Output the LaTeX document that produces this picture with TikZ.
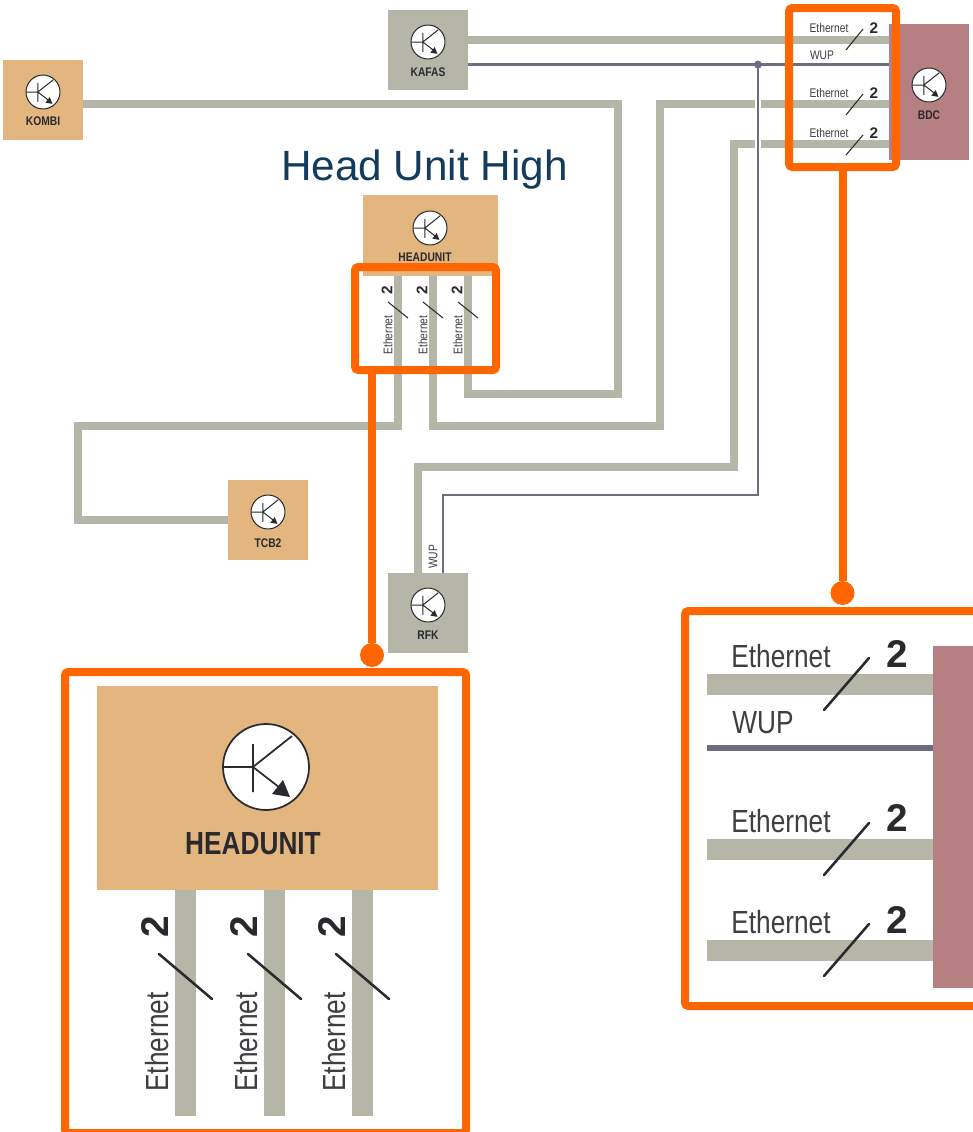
\documentclass[tikz,border=0pt]{standalone}
\usepackage{fontspec}
\setmainfont{Liberation Sans}
\newfontfamily\condf[FakeStretch=0.82]{Liberation Sans}
\definecolor{tan}{HTML}{E3B67F}
\definecolor{wiregray}{HTML}{B5B6A7}
\definecolor{rose}{HTML}{B67F82}
\definecolor{wup}{HTML}{6E6C82}
\definecolor{hl}{HTML}{FF6600}
\definecolor{ink}{HTML}{2A2A2E}
\definecolor{title}{HTML}{123B5E}
\tikzset{
  x=0.75pt,y=-0.75pt,
  unit/.style n args={3}{fill=#1,draw=none,inner sep=0,outer sep=0,minimum width=#2*0.75pt,minimum height=#3*0.75pt},
  eth/.style={draw=wiregray,line width=6pt,miter limit=10},
  ethbig/.style={draw=wiregray,line width=15.75pt},
  wupw/.style={draw=wup,line width=2.2pt},
  wupbig/.style={draw=wup,line width=5pt},
  halo/.style={draw=white,line width=5pt},
  lblS/.style={font=\condf\fontsize{9.4}{10}\selectfont,inner sep=0,text=ink!90},
  lblSb/.style={font=\condf\bfseries\fontsize{9.4}{10}\selectfont,inner sep=0,text=ink},
  numS/.style={font=\bfseries\fontsize{11.5}{12}\selectfont,inner sep=0,text=ink},
  lblB/.style={font=\condf\fontsize{24}{26}\selectfont,inner sep=0,text=ink!90},
  lblBb/.style={font=\condf\bfseries\fontsize{24}{26}\selectfont,inner sep=0,text=ink},
  numB/.style={font=\bfseries\fontsize{29}{30}\selectfont,inner sep=0,text=ink},
  tick/.style={draw=ink,line width=0.8pt},
  tickB/.style={draw=ink,line width=1.9pt,line cap=round},
  frame/.style={draw=hl,line width=6pt,rounded corners=2.5pt,inner sep=0,outer sep=0,minimum width=#1},
  hilite/.style={draw=hl,line width=6pt},
  hdot/.style={circle,fill=hl,draw=none,inner sep=0,minimum size=18pt},
  wdot/.style={circle,fill=wup,draw=none,inner sep=0,minimum size=6pt},
  pics/transistor/.style n args={2}{code={
    \begin{scope}[scale=#1]
      \draw[fill=white,draw=ink,line width=#2] (0,0) circle (43);
      \draw[draw=ink,line width=#2] (-43,0) -- (-13,0) (-13,-23) -- (-13,25) (-13,0) -- (26,-31) (-13,0) -- (18,24);
      \fill[ink] (24,30) -- (6,27) -- (17,13) -- cycle;
    \end{scope}
  }},
}
\begin{document}
\begin{tikzpicture}
\clip (0,0) rectangle (973,1132);
\fill[white] (0,0) rectangle (973,1132);

% units
\node[unit={tan}{80}{80}] (kombi) at (43,100) {};
\node[unit={wiregray}{80}{80}] (kafas) at (428,50) {};
\node[unit={rose}{80}{136}] (bdc) at (929,92) {};
\node[unit={tan}{135}{81}] (head) at (430.5,235.5) {};
\node[unit={tan}{80}{80}] (tcb) at (268,520) {};
\node[unit={wiregray}{80}{80}] (rfk) at (428,613) {};

% ports and bends
\coordinate (kombiP) at (83,104);
\coordinate (kafasE) at (468,40);
\coordinate (kafasW) at (468,64.6);
\coordinate (bdcE1) at (889,40);
\coordinate (bdcW) at (889,64.6);
\coordinate (bdcE2) at (889,104);
\coordinate (bdcE3) at (889,144);
\coordinate (headA) at (398,276);
\coordinate (headB) at (433,276);
\coordinate (headC) at (468,276);
\coordinate (tcbP) at (228,520);
\coordinate (rfkE) at (418,573);
\coordinate (rfkW) at (443,573);
\coordinate (wupJ) at (758,64.6);

% ethernet wires
\draw[eth] (kafasE) -- (bdcE1);
\draw[eth] (kombiP) -- (618,104) -- (618,394) -- (468,394) -- (headC);
\draw[eth] (headA) -- (398,426) -- (78,426) -- (78,520) -- (tcbP);
\draw[eth] (headB) -- (433,426) -- (660,426) -- (660,104) -- (bdcE2);
\draw[eth] (bdcE3) -- (734,144) -- (734,467) -- (418,467) -- (rfkE);

% wake-up line
\draw[halo] (wupJ) -- (758,495);
\draw[wupw] (kafasW) -- (bdcW);
\draw[wupw] (wupJ) -- (758,495) -- (443,495) -- (rfkW);
\node[wdot] (wdotA) at (wupJ) {};

% transistor symbols
\pic at (43,92) {transistor={0.395}{0.75pt}};
\pic at (428,42) {transistor={0.395}{0.75pt}};
\pic at (929,85) {transistor={0.395}{0.75pt}};
\pic at (430,228) {transistor={0.395}{0.75pt}};
\pic at (268,512) {transistor={0.395}{0.75pt}};
\pic at (428,605) {transistor={0.395}{0.75pt}};

% unit labels
\node[lblSb] (lkombi) at (43,121) {KOMBI};
\node[lblSb] (lkafas) at (428,72) {KAFAS};
\node[lblSb] (lbdc) at (929,115) {BDC};
\node[lblSb] (lhead) at (425,257) {HEADUNIT};
\node[lblSb] (ltcb) at (268,543) {TCB2};
\node[lblSb] (lrfk) at (428,635) {RFK};
\node[font=\fontsize{31.7}{34}\selectfont,text=title,inner sep=0] (ttl) at (424.5,170) {Head Unit High};

% labels at BDC
\node[lblS] (e1) at (829,28) {Ethernet};
\node[numS] (n1) at (874,28) {2};
\draw[tick] (846,50) -- (863,29);
\node[lblS] (w1) at (822,55) {WUP};
\node[lblS] (e2) at (829,93) {Ethernet};
\node[numS] (n2) at (874,93) {2};
\draw[tick] (846,115) -- (863,94);
\node[lblS] (e3) at (829,133) {Ethernet};
\node[numS] (n3) at (874,133) {2};
\draw[tick] (846,155) -- (863,135);

% labels at head unit
\foreach \i/\dx in {a/0,b/35,c/70}{
  \node[lblS,rotate=90] (he\i) at (388+\dx,335) {Ethernet};
  \node[numS,rotate=90] (hn\i) at (387+\dx,290) {2};
  \draw[tick] (388+\dx,302) -- (408+\dx,318);
}
\node[lblS,rotate=90] (wr) at (433,557) {WUP};

% small highlight frames
\node[frame,minimum width=141*0.75pt,minimum height=103*0.75pt] (hbox) at (425.5,318.5) {};
\node[frame,minimum width=107*0.75pt,minimum height=159*0.75pt] (bbox) at (842.5,87.5) {};

% big head unit detail
\node[unit={tan}{341}{204}] (bighead) at (267.5,788) {};
\foreach \i/\dx in {a/0,b/89,c/177}{
  \coordinate (bhT\i) at (185+\dx,890);
  \coordinate (bhB\i) at (185+\dx,1116);
  \draw[ethbig] (bhT\i) -- (bhB\i);
  \node[lblB,rotate=90] (ble\i) at (157+\dx,1042) {Ethernet};
  \node[numB,rotate=90] (bln\i) at (155+\dx,927) {2};
  \draw[tickB] (159+\dx,954) -- (212+\dx,999);
}
\pic at (266,767) {transistor={1}{1.3pt}};
\node[lblBb] (blh) at (253,844) {HEADUNIT};
\node[frame,minimum width=401*0.75pt,minimum height=461*0.75pt] (hbig) at (265.5,902.5) {};

% big BDC detail
\node[unit={rose}{60}{342}] (bigbdc) at (963,817) {};
\coordinate (bbP1) at (933,684);
\coordinate (bbPw) at (933,748);
\coordinate (bbP2) at (933,849);
\coordinate (bbP3) at (933,950);
\draw[ethbig] (707,684) -- (bbP1);
\draw[wupbig] (707,748) -- (bbPw);
\draw[ethbig] (707,849) -- (bbP2);
\draw[ethbig] (707,950) -- (bbP3);
\foreach \i/\dy/\ny in {a/0/0,b/165/164,c/266/266}{
  \node[lblB] (bre\i) at (781,656+\dy) {Ethernet};
  \node[numB] (brn\i) at (897,654+\ny) {2};
  \draw[tickB] (824,710+\dy) -- (869,658+\dy);
}
\node[lblB] (brw) at (763,723) {WUP};
\node[frame,minimum width=304*0.75pt,minimum height=395*0.75pt] (bbig) at (837,808.5) {};

% leader lines
\node[hdot] (dotA) at (372,655) {};
\node[hdot] (dotB) at (842.5,593) {};
\draw[hilite] (hbox.south -| dotA) -- (dotA);
\draw[hilite] (bbox.south) -- (dotB);
\end{tikzpicture}
\end{document}
